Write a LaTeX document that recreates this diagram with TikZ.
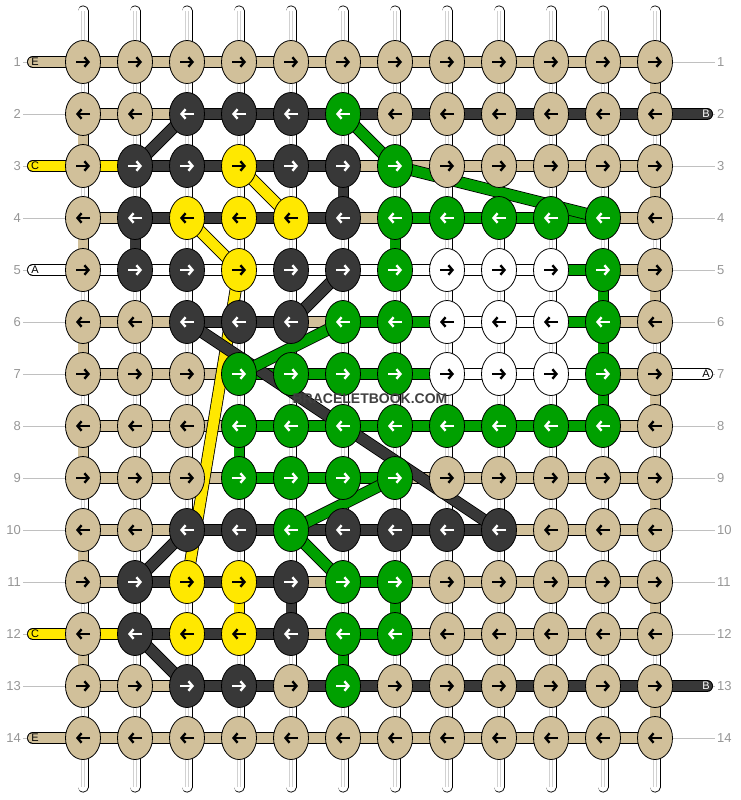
\documentclass[tikz,border=0pt]{standalone}
\usepackage{fontspec}
\setmainfont{Liberation Sans}
\usetikzlibrary{arrows.meta, shapes.geometric, positioning}
\definecolor{cT}{RGB}{209,192,154}
\definecolor{cD}{RGB}{56,56,56}
\definecolor{cY}{RGB}{255,232,0}
\definecolor{cG}{RGB}{0,160,0}
\definecolor{cW}{RGB}{255,255,255}
\colorlet{aT}{black}
\colorlet{aD}{white}
\colorlet{aY}{black}
\colorlet{aG}{white}
\colorlet{aW}{black}
\definecolor{labelgray}{RGB}{150,150,150}
\definecolor{guidegray}{RGB}{192,192,192}
\definecolor{markgray}{RGB}{64,64,64}
\pgfdeclarelayer{tubes}
\pgfdeclarelayer{strands}
\pgfsetlayers{tubes,strands,main}

\begin{document}
\begin{tikzpicture}[x=1pt, y=-1pt,
    knot/.style={ellipse, draw=black, line width=0.8pt, minimum width=35pt, minimum height=43pt, inner sep=0pt},
    band/.style={draw=black, line width=0.8pt, double=#1, double distance=10.5pt},
    vband/.style={draw=black, line width=0.8pt, double=#1, double distance=9.4pt},
    tube/.style={draw=black, line width=0.8pt, double=white, double distance=9.4pt, line cap=round},
    tubeline/.style={draw=black!18, line width=0.6pt},
    knotarrow/.style={line width=2.4pt, -{Straight Barb[length=4pt,width=9.5pt]}},
    rowlabel/.style={text=labelgray, font=\fontsize{13}{13}\selectfont, inner sep=2pt},
    guide/.style={draw=guidegray, line width=0.8pt},
    endletter/.style={font=\fontsize{11}{11}\selectfont, inner sep=0pt}]
    \useasboundingbox (0,0) rectangle (740,800);

    % Knots, row by row
    \foreach \row [count=\r] in {
        {T,T,T,T,T,T,T,T,T,T,T,T},
        {T,T,D,D,D,G,T,T,T,T,T,T},
        {T,D,D,Y,D,D,G,T,T,T,T,T},
        {T,D,Y,Y,Y,D,G,G,G,G,G,T},
        {T,D,D,Y,D,D,G,W,W,W,G,T},
        {T,T,D,D,D,G,G,W,W,W,G,T},
        {T,T,T,G,G,G,G,W,W,W,G,T},
        {T,T,T,G,G,G,G,G,G,G,G,T},
        {T,T,T,G,G,G,G,T,T,T,T,T},
        {T,T,D,D,G,D,D,D,D,T,T,T},
        {T,D,Y,Y,D,G,G,T,T,T,T,T},
        {T,D,Y,Y,D,G,G,T,T,T,T,T},
        {T,T,D,D,T,G,T,T,T,T,T,T},
        {T,T,T,T,T,T,T,T,T,T,T,T}}{
        \pgfmathsetmacro\axa{ifthenelse(isodd(\r),-7,7)}
        \pgfmathsetmacro\axb{ifthenelse(isodd(\r),7,-7)}
        \foreach \k [count=\c] in \row {
            \node[knot, fill=c\k] (k\r-\c) at ({83+52*(\c-1)},{62+52*(\r-1)}) {};
            \draw[knotarrow, color=a\k] ([xshift=\axa]k\r-\c.center) -- ([xshift=\axb]k\r-\c.center);
        }
    }

    % Base strings and row numbers
    \begin{pgfonlayer}{tubes}
        \foreach \c in {1,...,12} {
            \draw[tube] ([yshift=51]k1-\c.center) -- ([yshift=-49]k14-\c.center);
            \draw[tubeline] ([xshift=-1.3, yshift=51]k1-\c.center) -- ([xshift=-1.3, yshift=-49]k14-\c.center);
            \draw[tubeline] ([xshift=1.3, yshift=51]k1-\c.center) -- ([xshift=1.3, yshift=-49]k14-\c.center);
        }
        \foreach \r in {1,...,14} {
            \node[rowlabel, anchor=east] (nL\r) at (23,{62+52*(\r-1)}) {\r};
            \node[rowlabel, anchor=west] (nR\r) at (715,{62+52*(\r-1)}) {\r};
            \draw[guide] (nL\r) -- (k\r-1);
            \draw[guide] (k\r-12) -- (nR\r);
        }
    \end{pgfonlayer}

    \begin{pgfonlayer}{strands}
        % Working strings between knots
        \foreach \bars [count=\r] in {
            {T,T,T,T,T,T,T,T,T,T,T},
            {T,T,D,D,D,D,D,D,D,D,D},
            {Y,D,D,D,D,T,T,T,T,T,T},
            {T,D,D,D,D,T,G,G,G,G,T},
            {W,W,W,W,W,W,W,W,W,G,T},
            {T,T,D,D,T,G,G,W,W,G,T},
            {T,T,T,G,G,G,G,W,W,W,T},
            {T,T,T,G,G,G,G,G,G,G,T},
            {T,T,T,G,G,G,T,T,T,T,T},
            {T,T,D,D,D,D,D,D,T,T,T},
            {T,D,D,D,T,G,T,T,T,T,T},
            {Y,D,D,D,T,G,T,T,T,T,T},
            {T,T,D,D,D,D,D,D,D,D,D},
            {T,T,T,T,T,T,T,T,T,T,T}}{
            \foreach \b [count=\c] in \bars {
                \pgfmathtruncatemacro\n{\c+1}
                \draw[band=c\b] (k\r-\c.center) -- (k\r-\n.center);
            }
        }

        % Strings going down a column
        \foreach \r/\c/\k in {1/12/T, 2/1/T, 3/6/D, 3/12/T, 4/1/T, 4/2/D, 4/7/G, 5/11/G,
            5/12/T, 6/1/T, 6/11/G, 7/11/G, 7/12/T, 8/1/T, 8/4/G, 9/12/T, 10/1/T,
            11/4/Y, 11/5/D, 11/7/G, 11/12/T, 12/1/T, 12/6/G, 13/12/T} {
            \pgfmathtruncatemacro\n{\r+1}
            \draw[vband=c\k] (k\r-\c.center) -- (k\n-\c.center);
        }

        % Strings moving across
        \foreach \a/\b/\k in {3-2/2-3/D, 2-6/3-7/G, 3-7/4-11/G, 3-4/4-5/Y, 4-3/5-4/Y,
            5-4/11-3/Y, 5-6/6-5/D, 6-3/10-9/D, 6-6/7-4/G, 9-7/10-5/G, 10-5/11-6/G,
            11-2/10-3/D, 12-2/13-3/D}
            \draw[band=c\k] (k\a.center) -- (k\b.center);

        % Loose ends
        \foreach \r/\k/\l in {1/T/E, 3/Y/C, 5/W/A, 12/Y/C, 14/T/E}
            \draw[band=c\k, line cap=round] (k\r-1.center) -- ++(-50,0)
                node[endletter, xshift=2pt, text=a\k] {\l};
        \foreach \r/\k/\l in {2/D/B, 7/W/A, 13/D/B}
            \draw[band=c\k, line cap=round] (k\r-12.center) -- ++(52,0)
                node[endletter, xshift=-1pt, text=a\k] {\l};
    \end{pgfonlayer}

    % Watermark
    \node[font=\bfseries\fontsize{14}{14}\selectfont, text=markgray] (mark) at (370,399) {BRACELETBOOK.COM};
\end{tikzpicture}
\end{document}
